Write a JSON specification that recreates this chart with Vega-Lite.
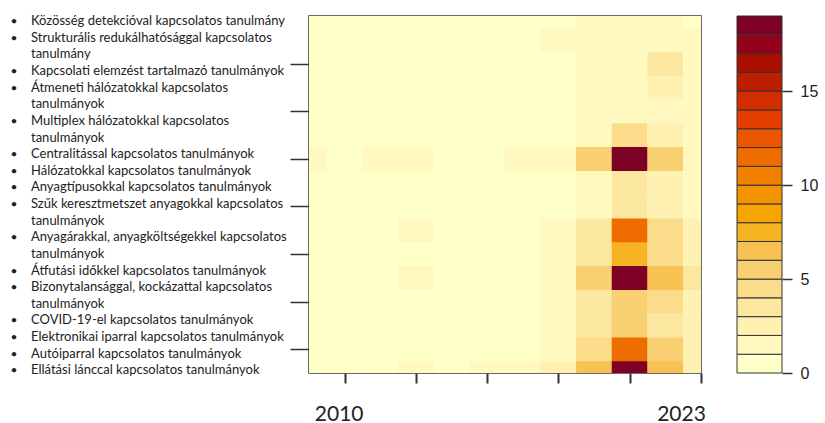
{
  "$schema": "https://vega.github.io/schema/vega-lite/v6.json",
  "padding": {"left": 0, "top": 15, "right": 0, "bottom": 0},
  "background": "white",
  "config": {"view": {"stroke": null}},
  "datasets": {
    "items": [
      {"line": 1, "first": true, "text": "Közösség detekcióval kapcsolatos tanulmány"},
      {"line": 2, "first": true, "text": "Strukturális redukálhatósággal kapcsolatos"},
      {"line": 3, "first": false, "text": "tanulmány"},
      {"line": 4, "first": true, "text": "Kapcsolati elemzést tartalmazó tanulmányok"},
      {"line": 5, "first": true, "text": "Átmeneti hálózatokkal kapcsolatos"},
      {"line": 6, "first": false, "text": "tanulmányok"},
      {"line": 7, "first": true, "text": "Multiplex hálózatokkal kapcsolatos"},
      {"line": 8, "first": false, "text": "tanulmányok"},
      {"line": 9, "first": true, "text": "Centralitással kapcsolatos tanulmányok"},
      {"line": 10, "first": true, "text": "Hálózatokkal kapcsolatos tanulmányok"},
      {"line": 11, "first": true, "text": "Anyagtípusokkal kapcsolatos tanulmányok"},
      {"line": 12, "first": true, "text": "Szűk keresztmetszet anyagokkal kapcsolatos"},
      {"line": 13, "first": false, "text": "tanulmányok"},
      {"line": 14, "first": true, "text": "Anyagárakkal, anyagköltségekkel kapcsolatos"},
      {"line": 15, "first": false, "text": "tanulmányok"},
      {"line": 16, "first": true, "text": "Átfutási időkkel kapcsolatos tanulmányok"},
      {"line": 17, "first": true, "text": "Bizonytalansággal, kockázattal kapcsolatos"},
      {"line": 18, "first": false, "text": "tanulmányok"},
      {"line": 19, "first": true, "text": "COVID-19-el kapcsolatos tanulmányok"},
      {"line": 20, "first": true, "text": "Elektronikai iparral kapcsolatos tanulmányok"},
      {"line": 21, "first": true, "text": "Autóiparral kapcsolatos tanulmányok"},
      {"line": 22, "first": true, "text": "Ellátási lánccal kapcsolatos tanulmányok"}
    ],
    "levels": [
      {"lo": 0, "hi": 1}, {"lo": 1, "hi": 2}, {"lo": 2, "hi": 3}, {"lo": 3, "hi": 4}, {"lo": 4, "hi": 5},
      {"lo": 5, "hi": 6}, {"lo": 6, "hi": 7}, {"lo": 7, "hi": 8}, {"lo": 8, "hi": 9}, {"lo": 9, "hi": 10},
      {"lo": 10, "hi": 11}, {"lo": 11, "hi": 12}, {"lo": 12, "hi": 13}, {"lo": 13, "hi": 14}, {"lo": 14, "hi": 15},
      {"lo": 15, "hi": 16}, {"lo": 16, "hi": 17}, {"lo": 17, "hi": 18}, {"lo": 18, "hi": 19}
    ],
    "grid": [
      {"col":1,"row":1,"n":0},{"col":1,"row":2,"n":0},{"col":1,"row":3,"n":0},{"col":1,"row":4,"n":0},{"col":1,"row":5,"n":0},{"col":1,"row":6,"n":0},{"col":1,"row":7,"n":0},{"col":1,"row":8,"n":0},{"col":1,"row":9,"n":0},{"col":1,"row":10,"n":1},{"col":1,"row":11,"n":0},{"col":1,"row":12,"n":0},{"col":1,"row":13,"n":0},{"col":1,"row":14,"n":0},{"col":1,"row":15,"n":0},{"col":1,"row":16,"n":0},
      {"col":2,"row":1,"n":0},{"col":2,"row":2,"n":0},{"col":2,"row":3,"n":0},{"col":2,"row":4,"n":0},{"col":2,"row":5,"n":0},{"col":2,"row":6,"n":0},{"col":2,"row":7,"n":0},{"col":2,"row":8,"n":0},{"col":2,"row":9,"n":0},{"col":2,"row":10,"n":0},{"col":2,"row":11,"n":0},{"col":2,"row":12,"n":0},{"col":2,"row":13,"n":0},{"col":2,"row":14,"n":0},{"col":2,"row":15,"n":0},{"col":2,"row":16,"n":0},
      {"col":3,"row":1,"n":0},{"col":3,"row":2,"n":0},{"col":3,"row":3,"n":0},{"col":3,"row":4,"n":0},{"col":3,"row":5,"n":0},{"col":3,"row":6,"n":0},{"col":3,"row":7,"n":0},{"col":3,"row":8,"n":0},{"col":3,"row":9,"n":0},{"col":3,"row":10,"n":1},{"col":3,"row":11,"n":0},{"col":3,"row":12,"n":0},{"col":3,"row":13,"n":0},{"col":3,"row":14,"n":0},{"col":3,"row":15,"n":0},{"col":3,"row":16,"n":0},
      {"col":4,"row":1,"n":1},{"col":4,"row":2,"n":0},{"col":4,"row":3,"n":0},{"col":4,"row":4,"n":0},{"col":4,"row":5,"n":1},{"col":4,"row":6,"n":0},{"col":4,"row":7,"n":1},{"col":4,"row":8,"n":0},{"col":4,"row":9,"n":0},{"col":4,"row":10,"n":1},{"col":4,"row":11,"n":0},{"col":4,"row":12,"n":0},{"col":4,"row":13,"n":0},{"col":4,"row":14,"n":0},{"col":4,"row":15,"n":0},{"col":4,"row":16,"n":0},
      {"col":5,"row":1,"n":0},{"col":5,"row":2,"n":0},{"col":5,"row":3,"n":0},{"col":5,"row":4,"n":0},{"col":5,"row":5,"n":0},{"col":5,"row":6,"n":0},{"col":5,"row":7,"n":0},{"col":5,"row":8,"n":0},{"col":5,"row":9,"n":0},{"col":5,"row":10,"n":0},{"col":5,"row":11,"n":0},{"col":5,"row":12,"n":0},{"col":5,"row":13,"n":0},{"col":5,"row":14,"n":0},{"col":5,"row":15,"n":0},{"col":5,"row":16,"n":0},
      {"col":6,"row":1,"n":1},{"col":6,"row":2,"n":0},{"col":6,"row":3,"n":0},{"col":6,"row":4,"n":0},{"col":6,"row":5,"n":0},{"col":6,"row":6,"n":0},{"col":6,"row":7,"n":0},{"col":6,"row":8,"n":0},{"col":6,"row":9,"n":0},{"col":6,"row":10,"n":0},{"col":6,"row":11,"n":0},{"col":6,"row":12,"n":0},{"col":6,"row":13,"n":0},{"col":6,"row":14,"n":0},{"col":6,"row":15,"n":0},{"col":6,"row":16,"n":0},
      {"col":7,"row":1,"n":1},{"col":7,"row":2,"n":0},{"col":7,"row":3,"n":0},{"col":7,"row":4,"n":0},{"col":7,"row":5,"n":0},{"col":7,"row":6,"n":0},{"col":7,"row":7,"n":0},{"col":7,"row":8,"n":0},{"col":7,"row":9,"n":0},{"col":7,"row":10,"n":1},{"col":7,"row":11,"n":0},{"col":7,"row":12,"n":0},{"col":7,"row":13,"n":0},{"col":7,"row":14,"n":0},{"col":7,"row":15,"n":0},{"col":7,"row":16,"n":0},
      {"col":8,"row":1,"n":2},{"col":8,"row":2,"n":1},{"col":8,"row":3,"n":1},{"col":8,"row":4,"n":1},{"col":8,"row":5,"n":1},{"col":8,"row":6,"n":1},{"col":8,"row":7,"n":1},{"col":8,"row":8,"n":0},{"col":8,"row":9,"n":0},{"col":8,"row":10,"n":1},{"col":8,"row":11,"n":0},{"col":8,"row":12,"n":0},{"col":8,"row":13,"n":0},{"col":8,"row":14,"n":0},{"col":8,"row":15,"n":1},{"col":8,"row":16,"n":0},
      {"col":9,"row":1,"n":6},{"col":9,"row":2,"n":4},{"col":9,"row":3,"n":3},{"col":9,"row":4,"n":3},{"col":9,"row":5,"n":5},{"col":9,"row":6,"n":3},{"col":9,"row":7,"n":3},{"col":9,"row":8,"n":1},{"col":9,"row":9,"n":1},{"col":9,"row":10,"n":5},{"col":9,"row":11,"n":1},{"col":9,"row":12,"n":1},{"col":9,"row":13,"n":1},{"col":9,"row":14,"n":1},{"col":9,"row":15,"n":1},{"col":9,"row":16,"n":1},
      {"col":10,"row":1,"n":19},{"col":10,"row":2,"n":11},{"col":10,"row":3,"n":5},{"col":10,"row":4,"n":5},{"col":10,"row":5,"n":18},{"col":10,"row":6,"n":7},{"col":10,"row":7,"n":11},{"col":10,"row":8,"n":3},{"col":10,"row":9,"n":3},{"col":10,"row":10,"n":19},{"col":10,"row":11,"n":4},{"col":10,"row":12,"n":1},{"col":10,"row":13,"n":1},{"col":10,"row":14,"n":1},{"col":10,"row":15,"n":1},{"col":10,"row":16,"n":1},
      {"col":11,"row":1,"n":6},{"col":11,"row":2,"n":5},{"col":11,"row":3,"n":3},{"col":11,"row":4,"n":4},{"col":11,"row":5,"n":6},{"col":11,"row":6,"n":4},{"col":11,"row":7,"n":4},{"col":11,"row":8,"n":2},{"col":11,"row":9,"n":2},{"col":11,"row":10,"n":5},{"col":11,"row":11,"n":2},{"col":11,"row":12,"n":1},{"col":11,"row":13,"n":2},{"col":11,"row":14,"n":3},{"col":11,"row":15,"n":1},{"col":11,"row":16,"n":1},
      {"col":12,"row":1,"n":2},{"col":12,"row":2,"n":2},{"col":12,"row":3,"n":2},{"col":12,"row":4,"n":2},{"col":12,"row":5,"n":3},{"col":12,"row":6,"n":2},{"col":12,"row":7,"n":2},{"col":12,"row":8,"n":1},{"col":12,"row":9,"n":1},{"col":12,"row":10,"n":1},{"col":12,"row":11,"n":1},{"col":12,"row":12,"n":1},{"col":12,"row":13,"n":1},{"col":12,"row":14,"n":1},{"col":12,"row":15,"n":1},{"col":12,"row":16,"n":0}
    ]
  },
  "bounds": "flush",
  "spacing": 19,
  "hconcat": [
    {
      "width": 290,
      "height": 357,
      "data": {"name": "items"},
      "encoding": {
        "y": {"field": "line", "type": "quantitative", "scale": {"domain": [0.69, 22.16], "reverse": true, "nice": false, "zero": false}, "axis": null},
        "x": {"datum": 0, "type": "quantitative", "scale": {"domain": [0, 1]}, "axis": null}
      },
      "layer": [
        {
          "transform": [{"filter": "datum.first"}],
          "mark": {"type": "text", "text": "•", "dx": 14, "align": "center", "baseline": "middle", "fontSize": 12, "font": "Lato", "color": "#222222"}
        },
        {
          "mark": {"type": "text", "dx": 31, "align": "left", "baseline": "middle", "fontSize": 13, "font": "Lato", "color": "#222222"},
          "encoding": {"text": {"field": "text"}}
        }
      ]
    },
    {
      "bounds": "flush",
      "spacing": 36,
      "hconcat": [
        {
          "width": 392,
          "height": 357,
          "data": {"name": "grid"},
          "view": {"stroke": "#3a3a3a", "strokeWidth": 1.5},
          "mark": {"type": "rect", "width": 36, "height": 24.2, "clip": true},
          "encoding": {
            "x": {
              "field": "col", "type": "quantitative",
              "scale": {"domain": [1, 12], "nice": false, "zero": false},
              "axis": {
                "orient": "bottom", "values": [2, 4, 6, 8, 10, 12], "domain": false, "grid": false,
                "tickSize": 10, "tickWidth": 2, "tickColor": "#333333", "title": null,
                "labelExpr": "datum.value == 2 ? '2010' : datum.value == 12 ? '2023' : ''",
                "labelFont": "Lato", "labelFontSize": 21, "labelColor": "#222222", "labelPadding": 20,
                "labelFlush": false, "labelOverlap": false, "labelBound": false, "labelBaseline": "top",
                "labelOffset": {"condition": {"test": "datum.value == 12", "value": -20}, "value": -6}
              }
            },
            "y": {
              "field": "row", "type": "quantitative",
              "scale": {"domain": [1, 16], "nice": false, "zero": false},
              "axis": {
                "orient": "left", "values": [2, 4, 6, 8, 10, 12, 14], "labels": false, "domain": false, "grid": false,
                "tickSize": 19, "tickWidth": 1.5, "tickColor": "#333333", "title": null
              }
            },
            "color": {
              "field": "n", "type": "quantitative",
              "scale": {"type": "threshold", "domain": [1,2,3,4,5,6,7,8,9,10,11,12,13,14,15,16,17,18],
                "range": ["#FFFFC8","#FFF9C0","#FEF1B2","#FCE7A0","#FADC8A","#F8CF71","#F7C252","#F6B322","#F5A400","#F39300","#F18000","#EE6C00","#EB5500","#E33E00","#D12E00","#BE1E00","#AA0E00","#94011B","#7D0025"]},
              "legend": null
            }
          }
        },
        {
          "width": 45,
          "height": 357,
          "data": {"name": "levels"},
          "mark": {"type": "rect", "stroke": "#333333", "strokeWidth": 1},
          "encoding": {
            "y": {
              "field": "lo", "type": "quantitative",
              "scale": {"domain": [0, 19], "nice": false, "zero": false},
              "axis": {
                "orient": "right", "values": [0, 5, 10, 15], "domain": false, "grid": false,
                "tickSize": 10, "tickWidth": 1.5, "tickColor": "#333333", "title": null,
                "labelFont": "Liberation Sans", "labelFontSize": 16, "labelColor": "#222222",
                "labelPadding": 8, "labelFlush": false
              }
            },
            "y2": {"field": "hi"},
            "color": {
              "field": "lo", "type": "quantitative",
              "scale": {"type": "threshold", "domain": [1,2,3,4,5,6,7,8,9,10,11,12,13,14,15,16,17,18],
                "range": ["#FFFFC8","#FFF9C0","#FEF1B2","#FCE7A0","#FADC8A","#F8CF71","#F7C252","#F6B322","#F5A400","#F39300","#F18000","#EE6C00","#EB5500","#E33E00","#D12E00","#BE1E00","#AA0E00","#94011B","#7D0025"]},
              "legend": null
            }
          }
        }
      ]
    }
  ]
}
